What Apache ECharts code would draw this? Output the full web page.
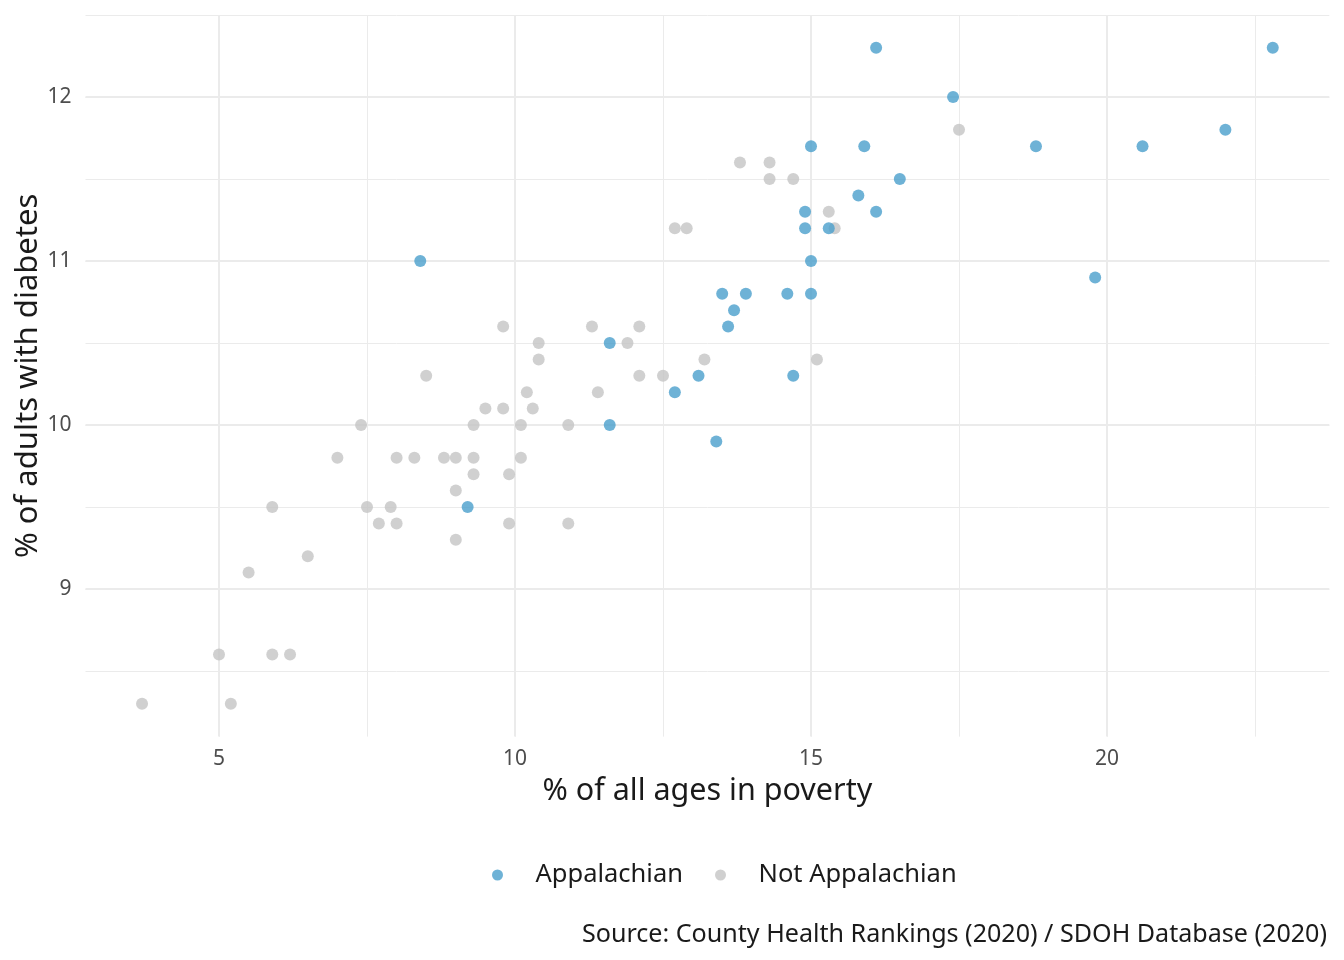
<!DOCTYPE html>
<html>
<head>
<meta charset="utf-8">
<script src="https://cdn.jsdelivr.net/npm/echarts@6/dist/echarts.min.js"></script>
<style>
html,body{margin:0;padding:0;background:#fff;}
#chart{width:1344px;height:960px;}
</style>
</head>
<body>
<div id="chart"></div>
<script>
// Appalachian counties
var appalachianPoverty  = [16.1, 22.8, 17.4, 22.0, 15.0, 15.9, 18.8, 20.6, 16.5, 15.8, 14.9, 16.1, 14.9, 15.3, 8.4, 15.0, 19.8, 13.5, 13.9, 14.6, 15.0, 13.7, 13.6, 11.6, 13.1, 14.7, 12.7, 11.6, 13.4, 9.2];
var appalachianDiabetes = [12.3, 12.3, 12.0, 11.8, 11.7, 11.7, 11.7, 11.7, 11.5, 11.4, 11.3, 11.3, 11.2, 11.2, 11.0, 11.0, 10.9, 10.8, 10.8, 10.8, 10.8, 10.7, 10.6, 10.5, 10.3, 10.3, 10.2, 10.0, 9.9, 9.5];
// Not Appalachian counties
var otherPoverty  = [3.7, 5.0, 5.2, 5.5, 5.9, 5.9, 6.2, 6.5, 7.0, 7.4, 7.5, 7.7, 7.9, 8.0, 8.0, 8.3, 8.5, 8.8, 9.0, 9.0, 9.0, 9.3, 9.3, 9.3, 9.5, 9.8, 9.8, 9.9, 9.9, 10.1, 10.1, 10.2, 10.3, 10.4, 10.4, 10.9, 10.9, 11.3, 11.4, 11.9, 12.1, 12.1, 12.5, 12.7, 12.9, 13.2, 13.8, 14.3, 14.3, 14.7, 15.1, 15.3, 15.4, 17.5];
var otherDiabetes = [8.3, 8.6, 8.3, 9.1, 9.5, 8.6, 8.6, 9.2, 9.8, 10.0, 9.5, 9.4, 9.5, 9.8, 9.4, 9.8, 10.3, 9.8, 9.8, 9.6, 9.3, 10.0, 9.8, 9.7, 10.1, 10.6, 10.1, 9.7, 9.4, 10.0, 9.8, 10.2, 10.1, 10.5, 10.4, 10.0, 9.4, 10.6, 10.2, 10.5, 10.6, 10.3, 10.3, 11.2, 11.2, 10.4, 11.6, 11.6, 11.5, 11.5, 10.4, 11.3, 11.2, 11.8];

var seriesNames = ['Appalachian', 'Not Appalachian'];
var xTitle = '% of all ages in poverty';
var yTitle = '% of adults with diabetes';
var caption = 'Source: County Health Rankings (2020) / SDOH Database (2020)';

function pairs(xs, ys){ return xs.map(function(x,i){ return [x, ys[i]]; }); }

var FONT = '"Noto Sans", sans-serif';
var BLUE = '#4A9FCC';
var GREY = '#C4C4C4';
var GRID = '#EBEBEB';

var xMin = 2.745, xMax = 23.755, yMin = 8.1, yMax = 12.5;

var chart = echarts.init(document.getElementById('chart'), null, {renderer:'canvas'});
var option = {
  backgroundColor: '#fff',
  animation: false,
  textStyle: {fontFamily: FONT},
  grid: {left: 85.5, right: 14.7, top: 15, bottom: 223.4, containLabel: false, outerBoundsMode: 'none'},
  title: {
    text: caption, right: 12, top: 917,
    textStyle: {fontFamily: FONT, fontSize: 25.1, fontWeight: 'normal', color: '#1A1A1A'}
  },
  legend: [
    {data: [seriesNames[0]], left: 487, top: 857, icon: 'circle', itemWidth: 66, itemHeight: 11,
     textStyle: {fontFamily: FONT, fontSize: 25.5, color: '#1A1A1A'}},
    {data: [seriesNames[1]], left: 710, top: 857, icon: 'circle', itemWidth: 66, itemHeight: 11,
     textStyle: {fontFamily: FONT, fontSize: 25.5, color: '#1A1A1A'}}
  ],
  xAxis: [
    {
      type: 'value', min: xMin, max: xMax, minInterval: 5, maxInterval: 5,
      name: xTitle, nameLocation: 'middle', nameGap: 39, nameMoveOverlap: false,
      nameTextStyle: {fontFamily: FONT, fontSize: 30.5, color: '#1A1A1A'},
      axisLine: {show: false}, axisTick: {show: false},
      axisLabel: {fontFamily: FONT, fontSize: 21, color: '#4D4D4D', margin: 12, showMinLabel: false, showMaxLabel: false},
      splitLine: {show: true, showMinLine: false, showMaxLine: false, lineStyle: {color: GRID, width: 2}}
    },
    {
      type: 'value', min: xMin, max: xMax, minInterval: 2.5, maxInterval: 2.5,
      position: 'bottom',
      axisLine: {show: false}, axisTick: {show: false}, axisLabel: {show: false},
      splitLine: {show: true, showMinLine: false, showMaxLine: false, lineStyle: {color: GRID, width: 1}}
    }
  ],
  yAxis: [
    {
      type: 'value', min: yMin, max: yMax, minInterval: 1, maxInterval: 1,
      name: yTitle, nameLocation: 'middle', nameGap: 42, nameRotate: 90, nameMoveOverlap: false,
      nameTextStyle: {fontFamily: FONT, fontSize: 31, color: '#1A1A1A'},
      axisLine: {show: false}, axisTick: {show: false},
      axisLabel: {fontFamily: FONT, fontSize: 21, color: '#4D4D4D', margin: 14, showMinLabel: false, showMaxLabel: false},
      splitLine: {show: true, showMinLine: false, showMaxLine: false, lineStyle: {color: GRID, width: 2}}
    },
    {
      type: 'value', min: yMin, max: yMax, minInterval: 0.5, maxInterval: 0.5,
      position: 'left',
      axisLine: {show: false}, axisTick: {show: false}, axisLabel: {show: false},
      splitLine: {show: true, showMinLine: false, showMaxLine: true, lineStyle: {color: GRID, width: 1}}
    }
  ],
  series: [
    {
      name: seriesNames[1], type: 'scatter', xAxisIndex: 0, yAxisIndex: 0,
      data: pairs(otherPoverty, otherDiabetes), symbol: 'circle', symbolSize: 12,
      itemStyle: {color: GREY}, z: 2
    },
    {
      name: seriesNames[0], type: 'scatter', xAxisIndex: 0, yAxisIndex: 0,
      data: pairs(appalachianPoverty, appalachianDiabetes), symbol: 'circle', symbolSize: 12,
      itemStyle: {color: BLUE}, z: 3
    }
  ]
};
chart.setOption(option);
</script>
</body>
</html>
